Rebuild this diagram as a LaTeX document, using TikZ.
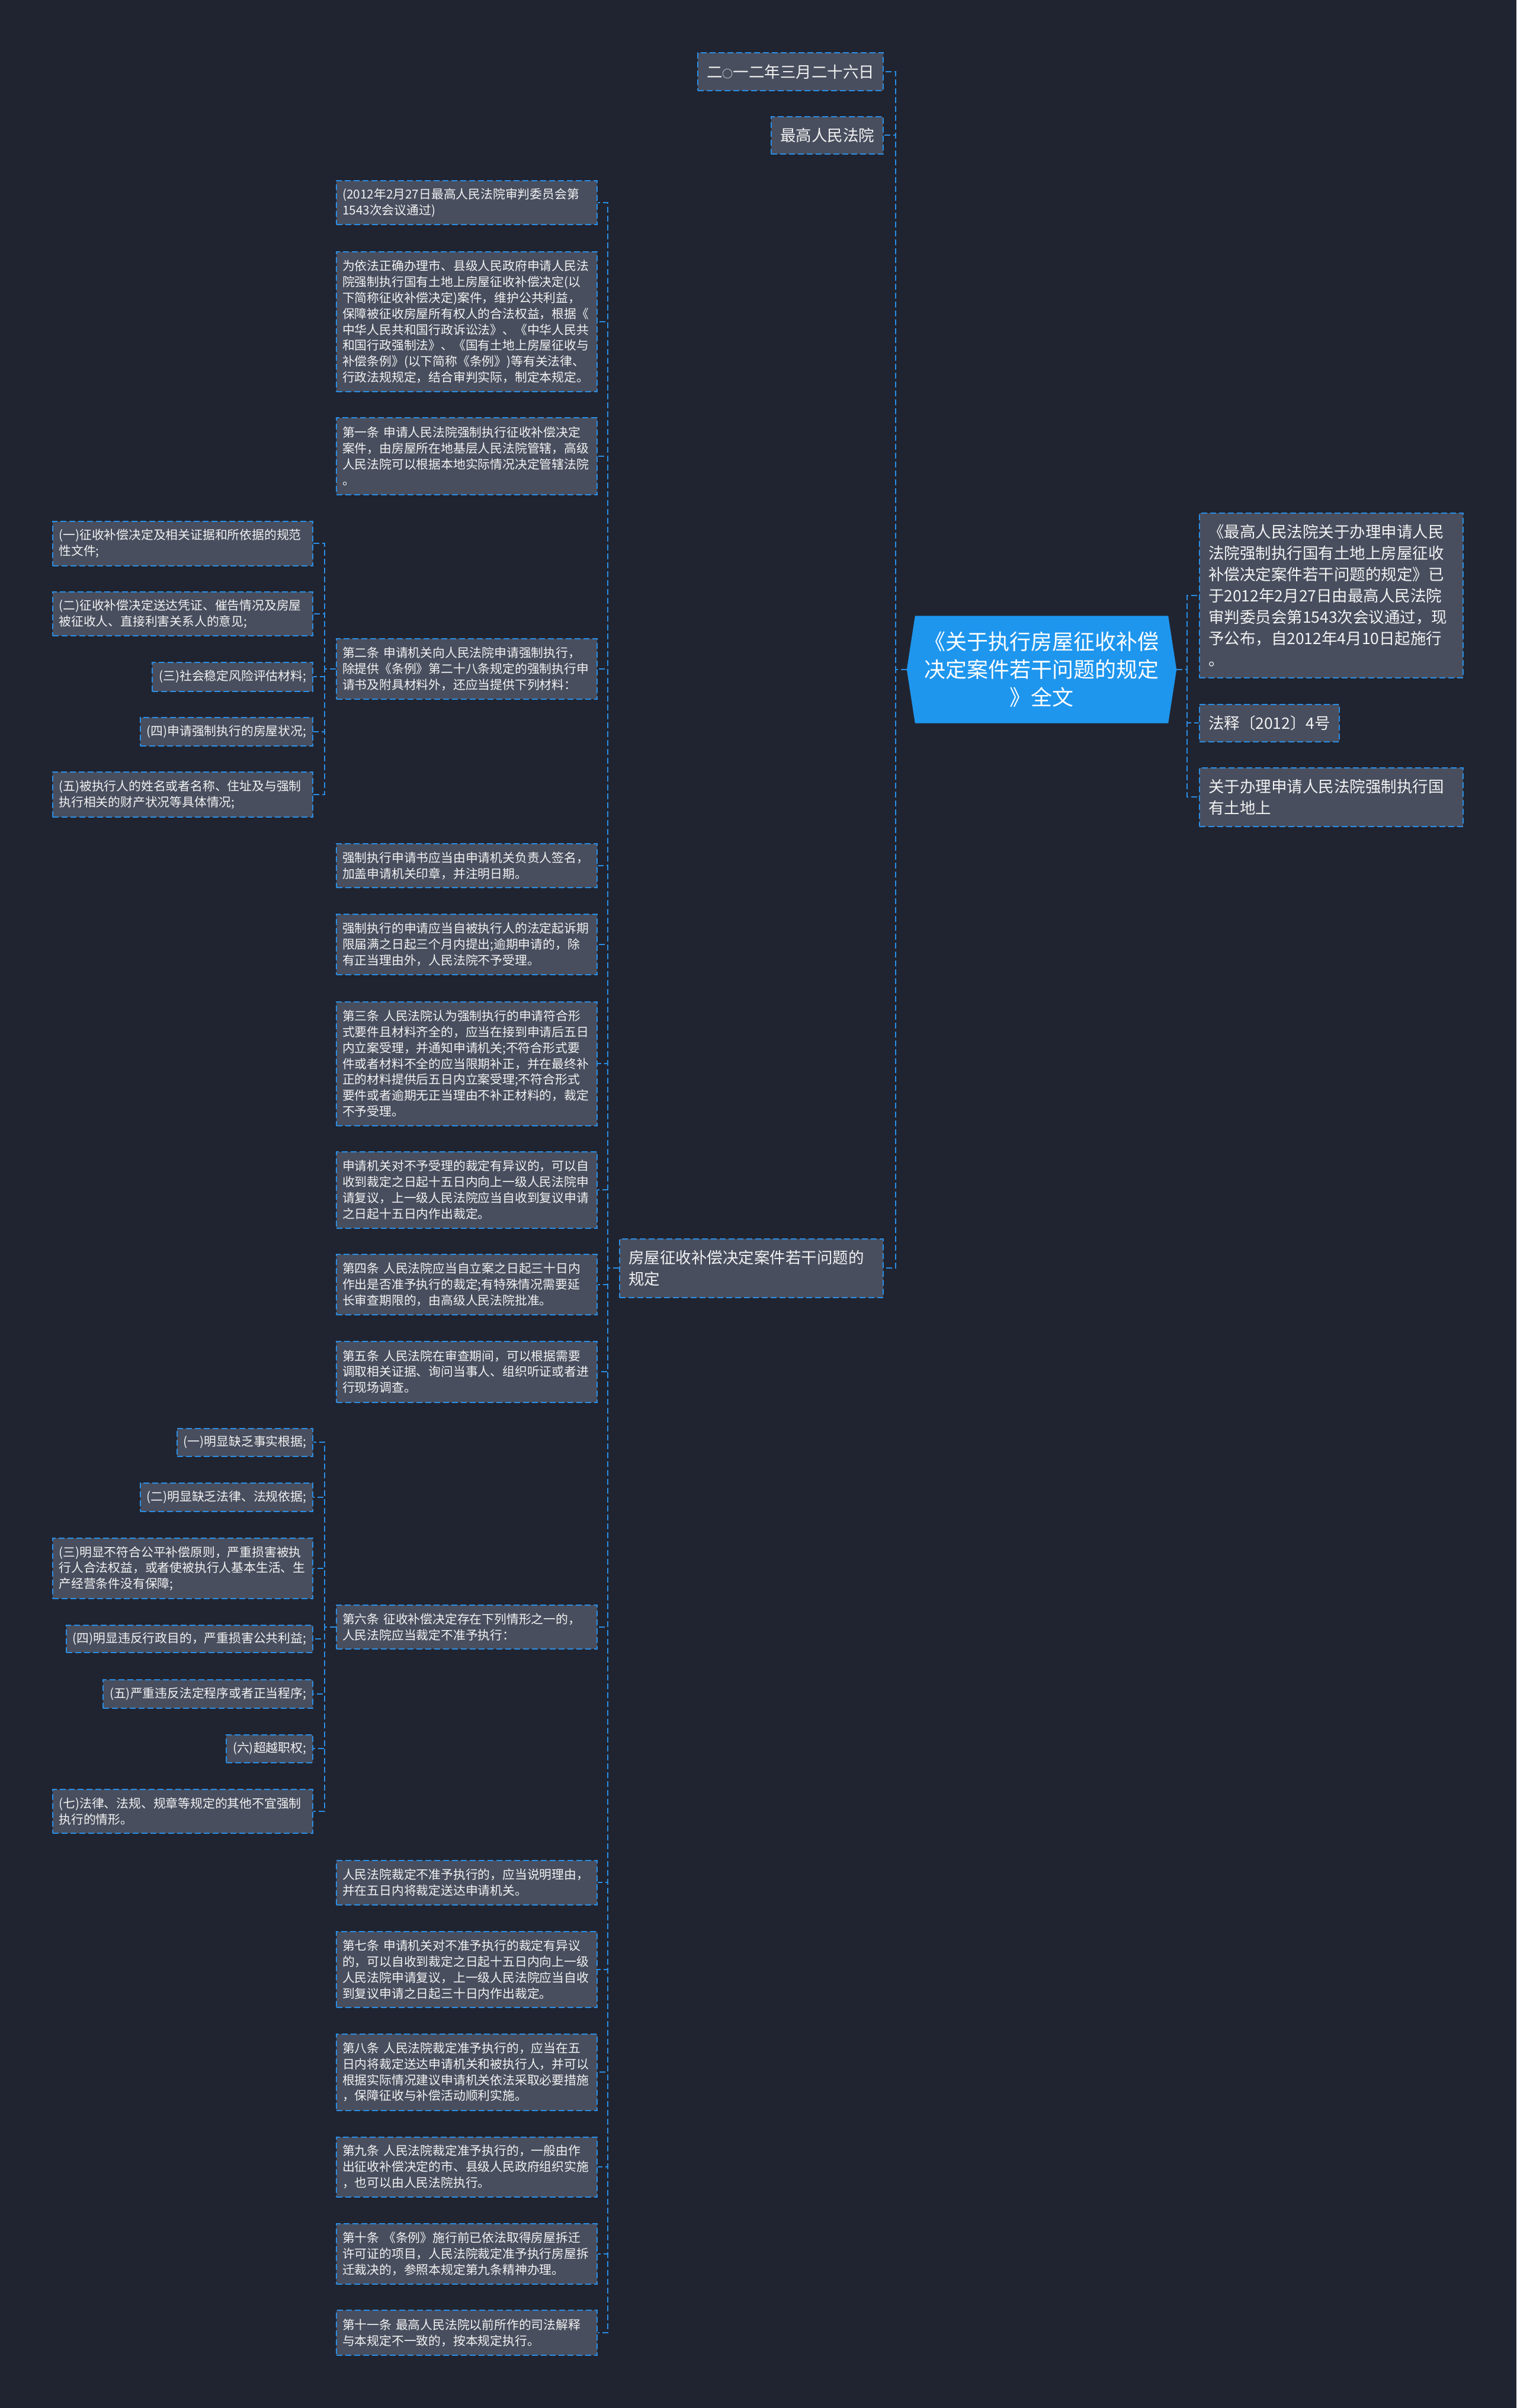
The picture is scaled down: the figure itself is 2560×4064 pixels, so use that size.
\documentclass[tikz,border=0pt]{standalone}
\usepackage{fontspec}
\setmainfont{Noto Sans CJK SC}
\usetikzlibrary{backgrounds}
\definecolor{bgc}{HTML}{202430}
\definecolor{boxfill}{HTML}{484E5E}
\definecolor{edgec}{HTML}{2A8DE4}
\definecolor{rootblue}{HTML}{1E96EE}
\definecolor{txt}{HTML}{F2F2F2}
\tikzset{
  basebox/.style={draw=edgec, line width=2pt, dash pattern=on 10pt off 5pt, fill=boxfill, text=txt, align=left, inner ysep=0pt},
  smallbox/.style={basebox, inner xsep=11pt, font=\fontsize{20.8pt}{26.8pt}\selectfont},
  midbox/.style={smallbox, text width=420pt, inner xsep=10pt},
  leftmulti/.style={smallbox, text width=418pt, inner xsep=10.5pt, anchor=east},
  leftsingle/.style={smallbox, anchor=east},
  bigbox/.style={basebox, inner xsep=15pt, font=\fontsize{26.5pt}{36pt}\selectfont},
  bigwide/.style={bigbox, text width=415pt},
  rootnode/.style={text=white, align=center, minimum width=455pt, minimum height=181pt, inner sep=0pt, font=\fontsize{36pt}{47pt}\selectfont},
  link/.style={draw=edgec, line width=2pt, dash pattern=on 10pt off 5pt},
}
\begin{document}
\begin{tikzpicture}[x=1pt,y=-1pt]
\useasboundingbox (0,0) rectangle (2560,4064);
\begin{scope}[on background layer]
\fill[bgc] (0,0) rectangle (2560,4064);
\end{scope}

% root
\node[rootnode] (root) at (1758.5,1130) {《关于执行房屋征收补偿\\决定案件若干问题的规定\\》全文};
\begin{scope}[on background layer]
\fill[rootblue] (root.west) -- ([xshift=14pt]root.north west) -- ([xshift=-14pt]root.north east) -- (root.east) -- ([xshift=-14pt]root.south east) -- ([xshift=14pt]root.south west) -- cycle;
\end{scope}

% top-left children
\node[bigbox, anchor=east, minimum height=64pt] (t1) at (1492,121) {二{\fontsize{18pt}{36pt}\selectfont ○}一二年三月二十六日};
\node[bigbox, anchor=east, minimum height=63pt] (t2) at (1492,228) {最高人民法院};
\node[bigwide, anchor=east, minimum height=99pt] (fw) at (1492,2140) {房屋征收补偿决定案件若干问题的\\规定};

% right children
\node[bigwide, anchor=west, minimum height=278pt] (r1) at (2024,1005) {《最高人民法院关于办理申请人民\\法院强制执行国有土地上房屋征收\\补偿决定案件若干问题的规定》已\\于2012年2月27日由最高人民法院\\审判委员会第1543次会议通过，现\\予公布，自2012年4月10日起施行\\。};
\node[bigbox, anchor=west, minimum height=63pt] (r2) at (2024,1220) {法释〔2012〕4号};
\node[bigwide, anchor=west, minimum height=99pt] (r3) at (2024,1345) {关于办理申请人民法院强制执行国\\有土地上};

% middle column
\node[midbox, minimum height=74pt] (m1) at (788,342) {(2012年2月27日最高人民法院审判委员会第\\1543次会议通过)};
\node[midbox, minimum height=236pt] (m2) at (788,543) {为依法正确办理市、县级人民政府申请人民法\\院强制执行国有土地上房屋征收补偿决定(以\\下简称征收补偿决定)案件，维护公共利益，\\保障被征收房屋所有权人的合法权益，根据《\\中华人民共和国行政诉讼法》、《中华人民共\\和国行政强制法》、《国有土地上房屋征收与\\补偿条例》(以下简称《条例》)等有关法律、\\行政法规规定，结合审判实际，制定本规定。};
\node[midbox, minimum height=130pt] (m3) at (788,770) {第一条 申请人民法院强制执行征收补偿决定\\案件，由房屋所在地基层人民法院管辖，高级\\人民法院可以根据本地实际情况决定管辖法院\\。};
\node[midbox, minimum height=102pt] (m4) at (788,1129) {第二条 申请机关向人民法院申请强制执行，\\除提供《条例》第二十八条规定的强制执行申\\请书及附具材料外，还应当提供下列材料：};
\node[midbox, minimum height=74pt] (m5) at (788,1461) {强制执行申请书应当由申请机关负责人签名，\\加盖申请机关印章，并注明日期。};
\node[midbox, minimum height=102pt] (m6) at (788,1594) {强制执行的申请应当自被执行人的法定起诉期\\限届满之日起三个月内提出;逾期申请的，除\\有正当理由外，人民法院不予受理。};
\node[midbox, minimum height=209pt] (m7) at (788,1795) {第三条 人民法院认为强制执行的申请符合形\\式要件且材料齐全的，应当在接到申请后五日\\内立案受理，并通知申请机关;不符合形式要\\件或者材料不全的应当限期补正，并在最终补\\正的材料提供后五日内立案受理;不符合形式\\要件或者逾期无正当理由不补正材料的，裁定\\不予受理。};
\node[midbox, minimum height=129pt] (m8) at (788,2008) {申请机关对不予受理的裁定有异议的，可以自\\收到裁定之日起十五日内向上一级人民法院申\\请复议，上一级人民法院应当自收到复议申请\\之日起十五日内作出裁定。};
\node[midbox, minimum height=102pt] (m9) at (788,2168) {第四条 人民法院应当自立案之日起三十日内\\作出是否准予执行的裁定;有特殊情况需要延\\长审查期限的，由高级人民法院批准。};
\node[midbox, minimum height=103pt] (m10) at (788,2315) {第五条 人民法院在审查期间，可以根据需要\\调取相关证据、询问当事人、组织听证或者进\\行现场调查。};
\node[midbox, minimum height=74pt] (m11) at (788,2746) {第六条 征收补偿决定存在下列情形之一的，\\人民法院应当裁定不准予执行：};
\node[midbox, minimum height=75pt] (m12) at (788,3177) {人民法院裁定不准予执行的，应当说明理由，\\并在五日内将裁定送达申请机关。};
\node[midbox, minimum height=128pt] (m13) at (788,3324) {第七条 申请机关对不准予执行的裁定有异议\\的，可以自收到裁定之日起十五日内向上一级\\人民法院申请复议，上一级人民法院应当自收\\到复议申请之日起三十日内作出裁定。};
\node[midbox, minimum height=129pt] (m14) at (788,3497) {第八条 人民法院裁定准予执行的，应当在五\\日内将裁定送达申请机关和被执行人，并可以\\根据实际情况建议申请机关依法采取必要措施\\，保障征收与补偿活动顺利实施。};
\node[midbox, minimum height=101pt] (m15) at (788,3657) {第九条 人民法院裁定准予执行的，一般由作\\出征收补偿决定的市、县级人民政府组织实施\\，也可以由人民法院执行。};
\node[midbox, minimum height=102pt] (m16) at (788,3804) {第十条 《条例》施行前已依法取得房屋拆迁\\许可证的项目，人民法院裁定准予执行房屋拆\\迁裁决的，参照本规定第九条精神办理。};
\node[midbox, minimum height=76pt] (m17) at (788,3937) {第十一条 最高人民法院以前所作的司法解释\\与本规定不一致的，按本规定执行。};

% left children of m4
\node[leftmulti, minimum height=75pt] (a1) at (529,917) {(一)征收补偿决定及相关证据和所依据的规范\\性文件;};
\node[leftmulti, minimum height=74pt] (a2) at (529,1036) {(二)征收补偿决定送达凭证、催告情况及房屋\\被征收人、直接利害关系人的意见;};
\node[leftsingle, minimum height=49pt] (a3) at (529,1142) {(三)社会稳定风险评估材料;};
\node[leftsingle, minimum height=48pt] (a4) at (529,1235) {(四)申请强制执行的房屋状况;};
\node[leftmulti, minimum height=76pt] (a5) at (529,1341) {(五)被执行人的姓名或者名称、住址及与强制\\执行相关的财产状况等具体情况;};

% left children of m11
\node[leftsingle, minimum height=47pt] (b1) at (529,2434) {(一)明显缺乏事实根据;};
\node[leftsingle, minimum height=48pt] (b2) at (529,2527) {(二)明显缺乏法律、法规依据;};
\node[leftmulti, minimum height=102pt] (b3) at (529,2647) {(三)明显不符合公平补偿原则，严重损害被执\\行人合法权益，或者使被执行人基本生活、生\\产经营条件没有保障;};
\node[leftsingle, minimum height=46pt] (b4) at (529,2766) {(四)明显违反行政目的，严重损害公共利益;};
\node[leftsingle, minimum height=48pt] (b5) at (529,2859) {(五)严重违反法定程序或者正当程序;};
\node[leftsingle, minimum height=47pt] (b6) at (529,2951) {(六)超越职权;};
\node[leftmulti, minimum height=74pt] (b7) at (529,3057) {(七)法律、法规、规章等规定的其他不宜强制\\执行的情形。};

% connectors
\foreach \c in {t1,t2,fw} \draw[link] (root.west) -- ++(-19,0) |- (\c.east);
\foreach \c in {r1,r2,r3} \draw[link] (root.east) -- ++(18,0) |- (\c.west);
\foreach \c in {m1,m2,m3,m4,m5,m6,m7,m8,m9,m10,m11,m12,m13,m14,m15,m16,m17} \draw[link] (fw.west) -- ++(-19,0) |- (\c.east);
\foreach \c in {a1,a2,a3,a4,a5} \draw[link] (m4.west) -- ++(-19,0) |- (\c.east);
\foreach \c in {b1,b2,b3,b4,b5,b6,b7} \draw[link] (m11.west) -- ++(-19,0) |- (\c.east);
\end{tikzpicture}
\end{document}
